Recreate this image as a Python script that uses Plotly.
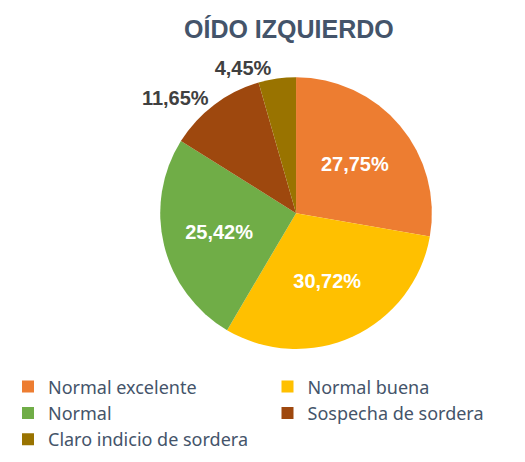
import plotly.graph_objects as go

labels = ["Normal excelente", "Normal buena", "Normal", "Sospecha de sordera", "Claro indicio de sordera"]
values = [27.75, 30.72, 25.42, 11.65, 4.45]
text_labels = ["27,75%", "30,72%", "25,42%", "11,65%", "4,45%"]
colors = ["#ED7D31", "#FFC000", "#70AD47", "#9E480E", "#997300"]

FONT = "Liberation Sans, Arial"

fig = go.Figure(go.Pie(
    labels=labels,
    values=values,
    text=text_labels,
    textinfo="text",
    sort=False,
    direction="clockwise",
    rotation=0,
    marker=dict(colors=colors, line=dict(width=0)),
    textposition=["inside", "inside", "inside", "outside", "outside"],
    insidetextorientation="horizontal",
    insidetextfont=dict(family=FONT, size=20, color="white", weight="bold"),
    outsidetextfont=dict(family=FONT, size=20, color="#404040", weight="bold"),
    domain=dict(x=[0.2, 0.91], y=[0.262, 0.85]),
    hoverinfo="label+text",
))

fig.update_layout(
    width=525, height=462,
    paper_bgcolor="white",
    plot_bgcolor="white",
    margin=dict(l=0, r=0, t=0, b=0),
    title=dict(text="<b>OÍDO IZQUIERDO</b>", x=0.535, xanchor="center", y=0.955, yanchor="middle",
               font=dict(family=FONT, size=25, color="#44546A")),
    showlegend=True,
    legend=dict(orientation="h", x=0.0, xanchor="left", y=0.22, yanchor="top",
                entrywidth=0.5, entrywidthmode="fraction",
                font=dict(family="Noto Sans, Open Sans, Arial", size=18, color="#44546A"),
                traceorder="normal"),
)

fig.write_html("out.html")
